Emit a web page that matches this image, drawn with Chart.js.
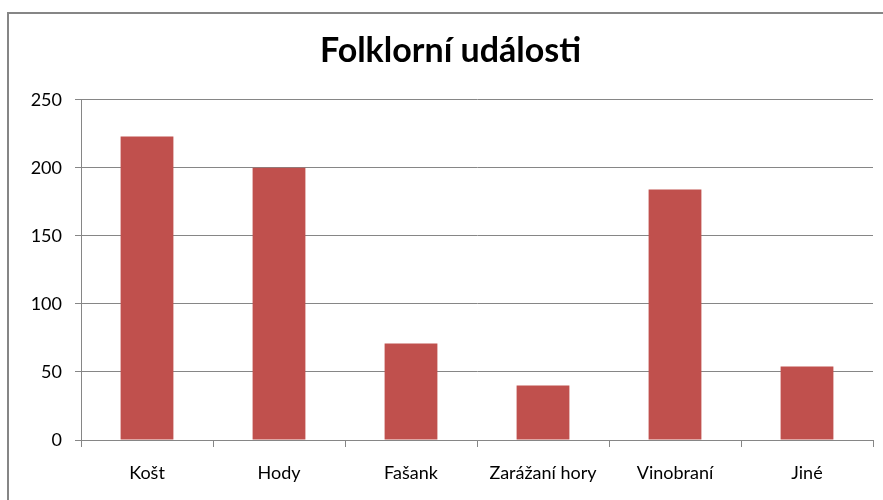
<!DOCTYPE html>
<html>
<head>
<meta charset="utf-8">
<script src="https://cdn.jsdelivr.net/npm/chart.js@4"></script>
<style>
    html, body { margin: 0; padding: 0; background: #ffffff; }
    #wrap { width: 883px; height: 500px; }
</style>
</head>
<body>
<div id="wrap"><canvas id="grafica" width="883" height="500"></canvas></div>
<script>
const kategorie = ['Košt', 'Hody', 'Fašank', 'Zarážaní hory', 'Vinobraní', 'Jiné'];
const hodnoty = [223, 200, 71, 40, 184, 54];
const osaY = [0, 50, 100, 150, 200, 250];

const sedaCara = '#868686';
const pismo = 'Lato, "Open Sans", sans-serif';

// rámeček kolem grafu
const ramecek = {
    id: 'ramecek',
    beforeDraw(chart) {
        const ctx = chart.ctx;
        ctx.save();
        ctx.strokeStyle = sedaCara;
        ctx.lineWidth = 2;
        ctx.strokeRect(8, 13, 900, 520);
        ctx.restore();
    }
};

const graf = new Chart(document.getElementById('grafica'), {
    type: 'bar',
    data: {
        labels: kategorie,
        datasets: [{
            data: hodnoty,
            backgroundColor: '#C0504D',
            borderWidth: 0,
            categoryPercentage: 1,
            barPercentage: 0.4
        }]
    },
    options: {
        responsive: false,
        animation: false,
        layout: {
            padding: { left: 28, right: 10, top: 0, bottom: 0 }
        },
        plugins: {
            legend: { display: false },
            tooltip: { enabled: false },
            title: {
                display: true,
                text: 'Folklorní události',
                color: '#000000',
                font: { family: pismo, size: 34, weight: 'bold', lineHeight: 1.2 },
                padding: { top: 31, bottom: 28 }
            }
        },
        scales: {
            x: {
                afterFit(scale) { scale.height = 60; },
                grid: {
                    offset: true,
                    drawOnChartArea: false,
                    tickLength: 7,
                    color: sedaCara
                },
                border: { color: sedaCara, width: 1 },
                ticks: {
                    color: '#000000',
                    padding: 15,
                    font: { family: pismo, size: 18 }
                }
            },
            y: {
                min: 0,
                max: 250,
                afterFit(scale) { scale.width = 53; },
                afterBuildTicks(scale) {
                    scale.ticks = osaY.map(v => ({ value: v }));
                },
                grid: {
                    color: sedaCara,
                    tickLength: 6
                },
                border: { color: sedaCara, width: 1 },
                ticks: {
                    color: '#000000',
                    padding: 13,
                    font: { family: pismo, size: 18 }
                }
            }
        }
    },
    plugins: [ramecek]
});
</script>
</body>
</html>
